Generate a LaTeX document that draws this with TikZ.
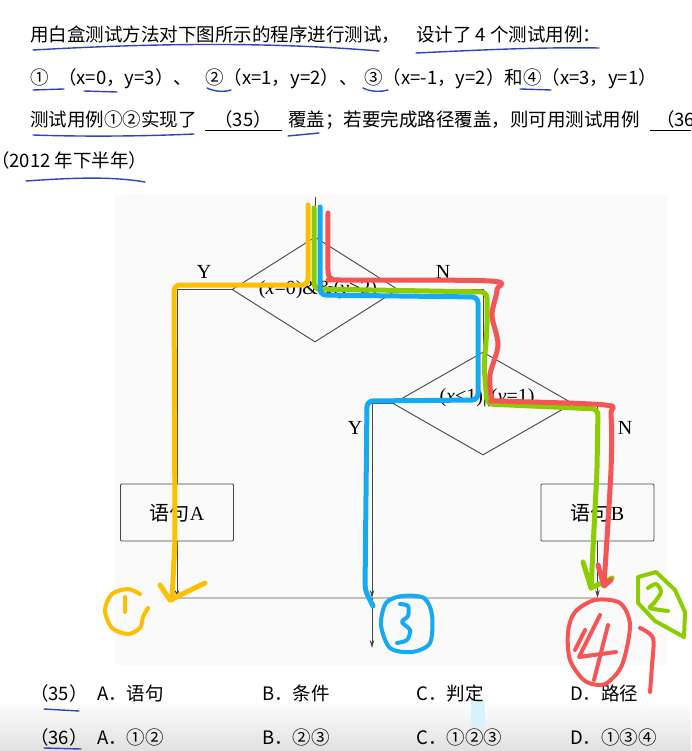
\documentclass[tikz,border=0pt]{standalone}
\usepackage{fontspec}
\setmainfont{Liberation Serif}
\newfontfamily\cjk{Noto Sans CJK SC}
\usetikzlibrary{shapes.geometric,arrows.meta}
\definecolor{ink}{RGB}{45,70,190}
\definecolor{hy}{RGB}{255,190,0}
\definecolor{hg}{RGB}{140,205,0}
\definecolor{hb}{RGB}{20,170,245}
\definecolor{hr}{RGB}{245,85,85}
\definecolor{fl}{RGB}{70,70,70}
\begin{document}
\begin{tikzpicture}[x=1pt,y=-1pt,
  body/.style={anchor=base west,inner sep=0pt,font=\cjk\fontsize{18.5}{20}\selectfont},
  flab/.style={inner sep=0pt,font=\fontsize{20}{22}\selectfont},
  dtext/.style={inner sep=0pt,font=\fontsize{20}{22}\selectfont},
  dia/.style={diamond,draw=fl,line width=0.9pt,inner sep=0pt},
  stmt/.style={draw=fl,line width=0.9pt,rounded corners=1pt,minimum width=113pt,minimum height=57pt,inner sep=0pt},
  conn/.style={draw=fl,line width=0.9pt},
  arr/.style={conn,-{Stealth[length=8pt,width=4.5pt]}},
  pen/.style={line width=1.4pt,draw=ink,line cap=round},
  hl/.style={line width=5pt,line cap=round,line join=round},
]
\useasboundingbox (0,0) rectangle (691,751);
\fill[white] (0,0) rectangle (691,751);
\fill[black!2] (115,195) rectangle (668,665);
\shade[top color=white,bottom color=black!12] (0,700) rectangle (691,751);
\fill[cyan!15] (471,700) rectangle (485,728);

% ---------- question text ----------
\node[body] (t1a) at (30,42) {用白盒测试方法对下图所示的程序进行测试，};
\node[body] (t1b) at (416,42) {设计了 4 个测试用例：};
\node[body] (t2a) at (30,85) {①};
\node[body] (t2b) at (58,85) {（x=0，y=3）、};
\node[body] (t2c) at (205,85) {②（x=1，y=2）、};
\node[body] (t2d) at (364,85) {③（x=-1，y=2）和④（x=3，y=1）};
\node[body] (t3a) at (30,127) {测试用例①②实现了};
\node[body,anchor=base] (t3b) at (243,127) {（35）};
\node[body] (t3c) at (288,127) {覆盖；若要完成路径覆盖，则可用测试用例};
\node[body] (t3d) at (656,127) {（36};
\draw[black,line width=1pt] (205,131) -- (282,131);
\draw[black,line width=1pt] (650,131) -- (691,131);
\node[body] (t4) at (-9,168) {（2012 年下半年）};

% ---------- options ----------
\node[body] (o1) at (30,700) {（35）};
\node[body] (o1a) at (97,700) {A．语句};
\node[body] (o1b) at (262,700) {B．条件};
\node[body] (o1c) at (416,700) {C．判定};
\node[body] (o1d) at (570,700) {D．路径};
\node[body] (o2) at (30,744) {（36）};
\node[body] (o2a) at (97,744) {A．①②};
\node[body] (o2b) at (262,744) {B．②③};
\node[body] (o2c) at (416,744) {C．①②③};
\node[body] (o2d) at (570,744) {D．①③④};

% ---------- flowchart ----------
\coordinate (start) at (315,197);
\node[dia,minimum width=166pt,minimum height=105pt] (d1) at (315,289.5) {};
\node[dtext] (d1t) at (318,290) {(\textit{x}=0)\&\&(\textit{y}>2)};
\node[dia,minimum width=180pt,minimum height=103pt] (d2) at (483,403.5) {};
\node[dtext] (d2t) at (487,398) {(\textit{x}<1)||(\textit{y}=1)};
\node[stmt] (sA) at (177,512.5) {\cjk\fontsize{20}{22}\selectfont 语句\fontspec{Liberation Serif}A};
\node[stmt] (sB) at (597.5,512.5) {\cjk\fontsize{20}{22}\selectfont 语句\fontspec{Liberation Serif}B};
\node[flab] (y1) at (204,272) {Y};
\node[flab] (n1) at (443,272) {N};
\node[flab] (y2) at (355,428) {Y};
\node[flab] (n2) at (625,428) {N};
\coordinate (mA) at (177,598);
\coordinate (mB) at (597.5,598);
\coordinate (mM) at (372,598);
\coordinate (exit) at (372,648);

\draw[conn] (start) -- (d1.north);
\draw[conn] (d1.west) -| (sA.north);
\draw[conn] (d1.east) -| (d2.north);
\draw[conn] (d2.east) -| (sB.north);
\draw[arr] (d2.west) -| (mM);
\draw[arr] (sA.south) -- (mA);
\draw[arr] (sB.south) -- (mB);
\draw[black!25,line width=1.5pt] (mA) -- (mB);
\draw[arr] (mM) -- (exit);

% ---------- blue pen underlines ----------
\draw[pen] (33,50) .. controls (140,44) and (260,41) .. (379,51);
\draw[pen] (416,53) .. controls (480,50) and (540,47) .. (599,48);
\draw[pen] (33,90) -- (64,89);
\draw[pen] (84,91) -- (117,92);
\draw[pen] (207,88) .. controls (215,92) and (225,92) .. (231,90);
\draw[pen] (363,88) .. controls (371,92) and (380,92) .. (388,90);
\draw[pen] (520,89) -- (551,90);
\draw[pen] (33,135) .. controls (90,137) and (150,136) .. (194,134);
\draw[pen] (288,136) -- (319,133);
\draw[pen] (26,181) .. controls (70,178) and (110,176) .. (145,182);
\draw[pen] (44,709) -- (79,711);
\draw[pen] (44,748) -- (81,749);

% ---------- highlighter paths ----------
\draw[hy,hl,rounded corners=6pt] (308,205) -- (308,285) -- (174,285) -- (175,540) -- (172,600);
\draw[hy,hl] (160,585) -- (170,600) -- (205,583);
\draw[hy,hl,line width=4pt] plot[smooth] coordinates {(140,594) (128,589) (112,594) (105,610) (112,628) (128,634) (140,628) (143,617) (148,608)};
\draw[hy,hl,line width=4pt] (125,597) -- (125,612);

\draw[hg,hl,rounded corners=6pt] (314,208) -- (314,289) -- (487,292) -- (487,330) -- (484,365) -- (487,404) -- (598,409) -- (597,470) -- (591,588);
\draw[hg,hl] (583,562) -- (591,588) -- (612,578);
\draw[hg,hl,line width=4pt] (638,577) -- (656,572) -- (675,590) -- (685,612) -- (684,637) -- (655,621) -- (638,603) -- cycle;
\draw[hg,hl,line width=4pt] plot[smooth] coordinates {(648,588) (656,584) (661,592) (654,603) (650,608) (668,611)};

\draw[hb,hl,rounded corners=6pt] (320,207) -- (320,295) -- (478,297) -- (478,400) -- (367,401) -- (365,590) -- (373,606);
\draw[hb,hl,line width=4pt] plot[smooth cycle] coordinates {(386,603) (402,596) (424,598) (432,615) (430,643) (412,652) (390,648) (381,625)};
\draw[hb,hl,line width=4pt] plot[smooth] coordinates {(400,604) (408,606) (408,616) (402,622) (410,630) (407,640) (397,643)};

\draw[hr,hl] plot[smooth] coordinates {(328,213) (328,270) (332,279) (340,280) (490,281) (497,290) (492,315) (498,345) (490,375) (492,399) (500,401) (605,405) (611,415) (611,470) (604,585)};
\draw[hr,hl] (598,565) -- (604,586) -- (611,580);
\draw[hr,hl,line width=4pt] plot[smooth cycle] coordinates {(575,612) (595,600) (620,603) (630,625) (622,665) (605,684) (585,681) (570,660) (568,632)};
\draw[hr,hl,line width=4pt] (600,615) -- (579,657) -- (616,652);
\draw[hr,hl,line width=4pt] (608,625) -- (594,680);
\draw[hr,hl,line width=4pt] (585,630) -- (575,650);
\draw[hr,hl,line width=4pt] plot[smooth] coordinates {(640,628) (653,638) (652,665) (650,692)};
\end{tikzpicture}
\end{document}
